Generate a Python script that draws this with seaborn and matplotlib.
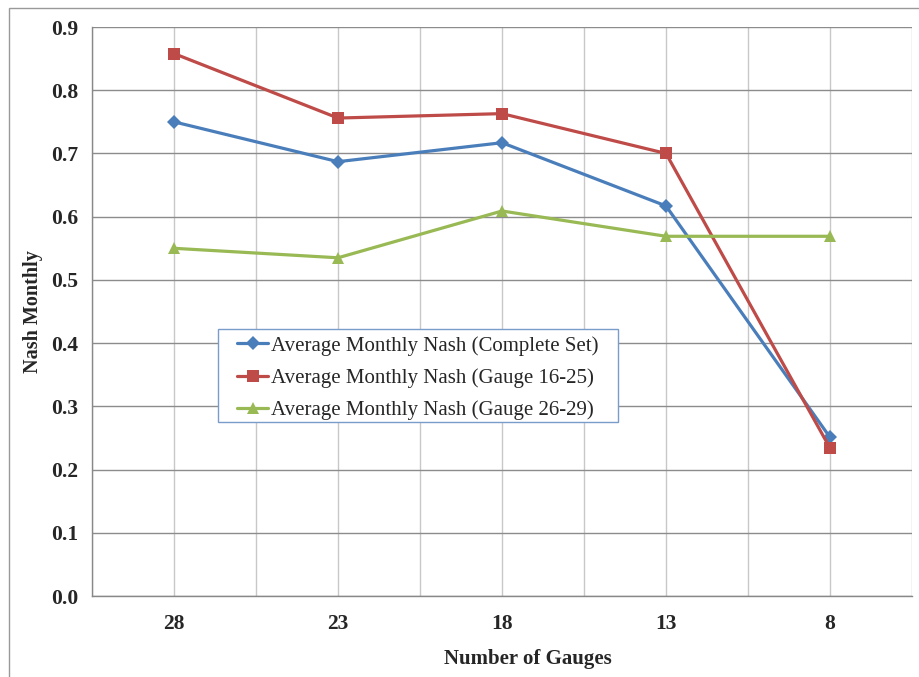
import matplotlib
matplotlib.use("Agg")
import matplotlib.pyplot as plt
import seaborn as sns
import pandas as pd
import numpy as np
from matplotlib.patches import Rectangle

gauges = ["28", "23", "18", "13", "8"]
complete_set = [0.750, 0.687, 0.717, 0.617, 0.251]
gauge_16_25 = [0.858, 0.756, 0.763, 0.700, 0.234]
gauge_26_29 = [0.550, 0.535, 0.609, 0.569, 0.569]
series_names = ["Average Monthly Nash (Complete Set)",
                "Average Monthly Nash (Gauge 16-25)",
                "Average Monthly Nash (Gauge 26-29)"]
y_ticks = [0.0, 0.1, 0.2, 0.3, 0.4, 0.5, 0.6, 0.7, 0.8, 0.9]

rows = []
for name, vals in zip(series_names, [complete_set, gauge_16_25, gauge_26_29]):
    for g, v in zip(gauges, vals):
        rows.append({"Gauges": g, "Nash": v, "Series": name})
df = pd.DataFrame(rows)

sns.set_style("white")
plt.rcParams['font.family'] = ['Liberation Serif', 'DejaVu Serif']

fig = plt.figure(figsize=(9.2, 6.77), dpi=100)
ax = fig.add_axes([0.1, 0.1196, 0.8913, 0.8405])

palette = {series_names[0]: "#4A7EBB", series_names[1]: "#BE4B48", series_names[2]: "#98B954"}
markers = {series_names[0]: "D", series_names[1]: "s", series_names[2]: "^"}
sizes = {series_names[0]: 7, series_names[1]: 9, series_names[2]: 9}

for name in series_names:
    sub = df[df["Series"] == name]
    sns.lineplot(data=sub, x="Gauges", y="Nash", ax=ax, color=palette[name],
                 marker=markers[name], markersize=sizes[name], linewidth=2.3,
                 markeredgewidth=0, label=name, sort=False)

ax.set_xlim(-0.5, 4.5)
ax.set_ylim(0, 0.9)
ax.set_yticks(y_ticks)
ax.set_yticklabels([f"{t:.1f}" for t in y_ticks], fontsize=15.5, fontweight="bold")
ax.set_xticks(range(len(gauges)))
ax.set_xticklabels(gauges, fontsize=15.5, fontweight="bold")
ax.set_xticks(np.arange(-0.5, 5, 1.0), minor=True)
ax.tick_params(axis="x", which="major", length=0, pad=13)
ax.tick_params(axis="x", which="minor", length=5, direction="out", color="#888888", width=1)
ax.tick_params(axis="y", which="major", length=5, direction="out", color="#888888", width=1, pad=5)
ax.grid(axis="y", which="major", color="#8c8c8c", linewidth=1)
ax.grid(axis="x", which="major", color="#c8c8c8", linewidth=1)
ax.grid(axis="x", which="minor", color="#c8c8c8", linewidth=1)
ax.set_axisbelow(True)

for s in ["top", "right"]:
    ax.spines[s].set_visible(False)
for s in ["left", "bottom"]:
    ax.spines[s].set_color("#888888")
    ax.spines[s].set_linewidth(1)

ax.set_xlabel("Number of Gauges", fontsize=15, fontweight="bold", labelpad=11)
ax.xaxis.label.set_x(0.532)
ax.set_ylabel("Nash Monthly", fontsize=14.5, fontweight="bold", labelpad=6)

ax.add_patch(Rectangle((0.1537, 0.3058), 0.4878, 0.1634, transform=ax.transAxes,
                       facecolor="white", edgecolor="#7A9CCB", linewidth=1, zorder=4))
leg = ax.legend(loc="upper left", bbox_to_anchor=(0.1768, 0.457), fontsize=15,
                frameon=False, borderpad=0, labelspacing=0.6,
                handlelength=1.5, handletextpad=0.15, borderaxespad=0)
leg.set_zorder(5)

fig.patches.append(Rectangle((9 / 920, -0.01), 1.0, 1 - 8 / 677 + 0.01, transform=fig.transFigure,
                             fill=False, edgecolor="#999999", linewidth=1))

fig.savefig("out.png", dpi=100)
